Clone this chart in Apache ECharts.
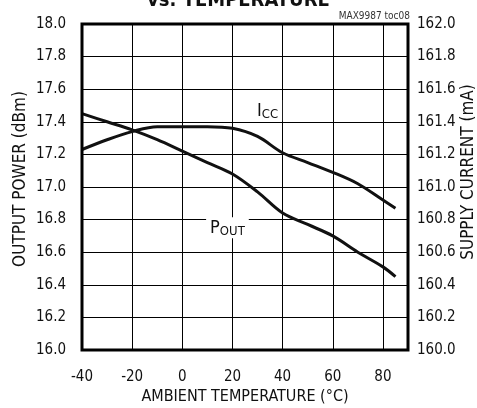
<!DOCTYPE html>
<html><head><meta charset="utf-8">
<script src="https://cdn.jsdelivr.net/npm/echarts@6/dist/echarts.min.js"></script>
<style>html,body{margin:0;padding:0;background:#fff}#c{width:477px;height:408px}</style>
</head><body><div id="c"></div>
<script>
var FONT = "'Liberation Sans Narrow','DejaVu Sans Condensed',sans-serif";
var temps = [-40, -30, -20, -10, 0, 10, 20, 30, 40, 50, 60, 70, 80, 85];
var poutValues = [17.45, 17.40, 17.35, 17.29, 17.22, 17.15, 17.08, 16.97, 16.84, 16.77, 16.70, 16.60, 16.51, 16.45];
var iccValues = [161.23, 161.29, 161.34, 161.37, 161.37, 161.37, 161.36, 161.31, 161.21, 161.15, 161.09, 161.02, 160.92, 160.87];
var xTicks = [-40, -20, 0, 20, 40, 60, 80];
var leftTicks = ['16.0','16.2','16.4','16.6','16.8','17.0','17.2','17.4','17.6','17.8','18.0'];
var rightTicks = ['160.0','160.2','160.4','160.6','160.8','161.0','161.2','161.4','161.6','161.8','162.0'];

function pairs(xs, ys){ return xs.map(function(x,i){ return [x, ys[i]]; }); }

var chart = echarts.init(document.getElementById('c'), null, {renderer:'canvas'});
var lbl = {fontFamily: FONT, fontSize: 15, color: '#111'};
var nameStyle = {fontFamily: FONT, fontSize: 17, color: '#111'};
chart.setOption({
  animation: false,
  backgroundColor: '#fff',
  grid: {left: 82, right: 69, top: 24, bottom: 58, show: true, borderColor: '#000', borderWidth: 3, containLabel: false, outerBoundsMode: 'none', z: 5},
  xAxis: {
    type: 'value', min: -40, max: 90, interval: 20,
    axisLine: {show: false}, axisTick: {show: false},
    splitLine: {show: true, lineStyle: {color: '#000', width: 1}},
    axisLabel: Object.assign({margin: 20, showMaxLabel: false, formatter: function(v){ return xTicks.indexOf(v) >= 0 ? String(v) : ''; }}, lbl),
    name: 'AMBIENT TEMPERATURE (°C)', nameLocation: 'middle', nameGap: 39, nameMoveOverlap: false,
    nameTextStyle: {fontFamily: FONT, fontSize: 16, color: '#111'}
  },
  yAxis: [{
    type: 'value', min: 16, max: 18, interval: 0.2,
    axisLine: {show: false}, axisTick: {show: false},
    splitLine: {show: true, lineStyle: {color: '#000', width: 1}},
    axisLabel: Object.assign({margin: 16, formatter: function(v){ return leftTicks[Math.round((v-16)/0.2)]; }}, lbl),
    name: 'OUTPUT POWER (dBm)', nameLocation: 'middle', nameGap: 53, nameMoveOverlap: false,
    nameTextStyle: Object.assign({padding: [0,0,0,16]}, nameStyle)
  },{
    type: 'value', min: 160, max: 162, interval: 0.2,
    axisLine: {show: false}, axisTick: {show: false}, splitLine: {show: false},
    axisLabel: Object.assign({margin: 9, formatter: function(v){ return rightTicks[Math.round((v-160)/0.2)]; }}, lbl),
    name: 'SUPPLY CURRENT (mA)', nameLocation: 'middle', nameGap: 52, nameMoveOverlap: false,
    nameTextStyle: Object.assign({padding: [0,0,0,30]}, nameStyle)
  }],
  series: [{
    name: 'POUT', type: 'line', yAxisIndex: 0, data: pairs(temps, poutValues),
    smooth: 0.35, symbol: 'none', lineStyle: {color: '#111', width: 3}, z: 3,
    markPoint: {symbol: 'circle', symbolSize: 0, silent: true,
      data: [{coord: [18, 16.75]}],
      label: {show: true, position: 'inside', formatter: '{a|P}{b|OUT}', backgroundColor: '#fff', padding: [2,4,0,4],
        rich: {a: {fontFamily: FONT, fontSize: 18, color: '#111'}, b: {fontFamily: FONT, fontSize: 13, color: '#111', padding: [6,0,0,0]}}}}
  },{
    name: 'ICC', type: 'line', yAxisIndex: 1, data: pairs(temps, iccValues),
    smooth: 0.35, symbol: 'none', lineStyle: {color: '#111', width: 3}, z: 3,
    markPoint: {symbol: 'circle', symbolSize: 0, silent: true,
      data: [{coord: [34, 161.47]}],
      label: {show: true, position: 'inside', formatter: '{a|I}{b|CC}', backgroundColor: '#fff', padding: [2,4,0,4],
        rich: {a: {fontFamily: FONT, fontSize: 18, color: '#111'}, b: {fontFamily: FONT, fontSize: 13, color: '#111', padding: [6,0,0,0]}}}}
  }],
  graphic: [
    {type: 'text', left: 'center', top: -9, style: {text: 'vs. TEMPERATURE', font: 'bold 20px ' + FONT, fill: '#111'}},
    {type: 'text', right: 67, top: 11, style: {text: 'MAX9987 toc08', font: '10px ' + FONT, fill: '#333'}}
  ]
});
</script></body></html>
